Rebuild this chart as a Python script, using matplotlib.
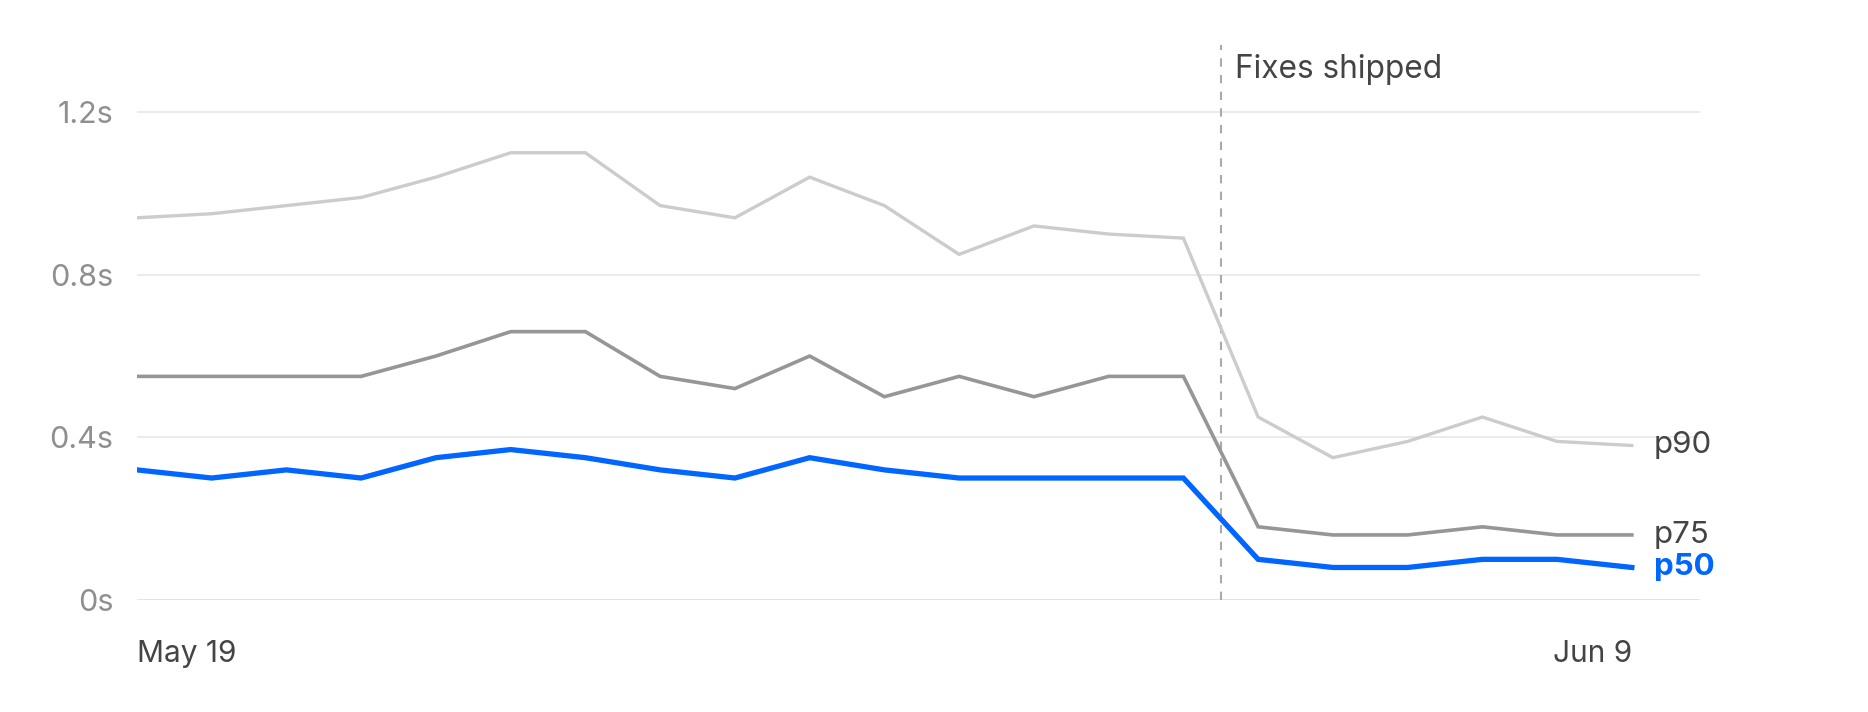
import matplotlib.pyplot as plt
import numpy as np

# daily response times (seconds), 21 samples May 19 -> Jun 9
p90 = [0.94, 0.95, 0.97, 0.99, 1.04, 1.10, 1.10, 0.97, 0.94, 1.04, 0.97,
       0.85, 0.92, 0.90, 0.89, 0.45, 0.35, 0.39, 0.45, 0.39, 0.38]
p75 = [0.55, 0.55, 0.55, 0.55, 0.60, 0.66, 0.66, 0.55, 0.52, 0.60, 0.50,
       0.55, 0.50, 0.55, 0.55, 0.18, 0.16, 0.16, 0.18, 0.16, 0.16]
p50 = [0.32, 0.30, 0.32, 0.30, 0.35, 0.37, 0.35, 0.32, 0.30, 0.35, 0.32,
       0.30, 0.30, 0.30, 0.30, 0.10, 0.08, 0.08, 0.10, 0.10, 0.08]
x_ticks = [0, 20]
x_labels = ['May 19', 'Jun 9']
y_ticks = [0, 0.4, 0.8, 1.2]
y_labels = ['0s', '0.4s', '0.8s', '1.2s']
fix_x = 14.5
fix_label = 'Fixes shipped'

plt.rcParams['font.family'] = ['Inter', 'DejaVu Sans']

x = np.arange(len(p50))

fig = plt.figure(figsize=(18.68, 7.12), dpi=100)
ax = fig.add_axes([0.0733, 0.1573, 0.8367, 0.7795])

ax.plot(x, p90, color='#cccccc', lw=2.4, solid_joinstyle='miter', zorder=3)
ax.plot(x, p75, color='#969696', lw=2.6, solid_joinstyle='miter', zorder=4)
ax.plot(x, p50, color='#0066ff', lw=3.8, solid_joinstyle='miter', zorder=5)

ax.axvline(fix_x, color='#aaaaaa', lw=1.5, dashes=(4, 4), zorder=2)
ax.annotate(fix_label, xy=(fix_x, 1.305), xytext=(10, 0),
            textcoords='offset points', va='center', ha='left',
            fontsize=22.8, color='#444444')

# end-of-line labels
for vals, name, col, wt in [(p90, 'p90', '#444444', 'normal'),
                            (p75, 'p75', '#444444', 'normal'),
                            (p50, 'p50', '#0066ff', 'bold')]:
    ax.annotate(name, xy=(x[-1], vals[-1]), xytext=(16, 0),
                textcoords='offset points', va='center', ha='left',
                fontsize=22.5, color=col, fontweight=wt)

ax.set_xlim(0, 20.91)
ax.set_ylim(0, 1.365)

ax.set_yticks(y_ticks)
ax.set_yticklabels(y_labels)
ax.set_xticks(x_ticks)
ax.set_xticklabels(x_labels)
for lbl, ha in zip(ax.get_xticklabels(), ['left', 'right']):
    lbl.set_ha(ha)

ax.tick_params(axis='y', length=0, pad=17, labelsize=22, labelcolor='#8f8f8f')
ax.tick_params(axis='x', length=0, pad=29, labelsize=21.5, labelcolor='#444444')

ax.grid(axis='y', color='#e8e8e8', lw=1.2)
ax.grid(axis='x', visible=False)
ax.set_axisbelow(True)
ax.axhline(0, color='#e2e2e2', lw=1.8, zorder=1)
for s in ax.spines.values():
    s.set_visible(False)

fig.savefig('out.png', dpi=100, facecolor='white')
